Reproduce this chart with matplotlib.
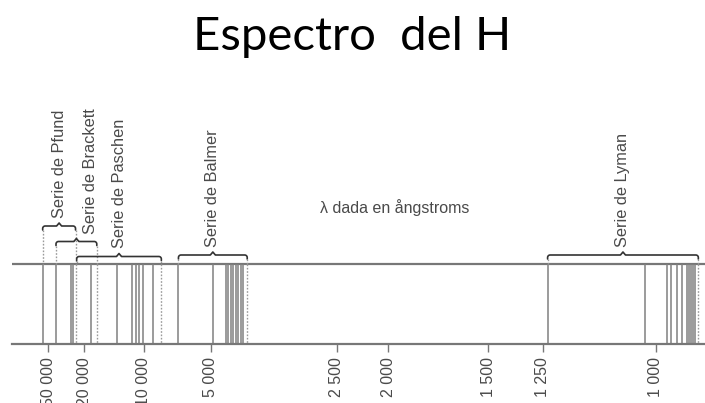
import numpy as np
import matplotlib
matplotlib.use('Agg')
import matplotlib.pyplot as plt
from matplotlib.ticker import FixedLocator, FuncFormatter

# axis ticks, wavelength in angstrom
tick_lam = np.array([50000, 20000, 10000, 5000, 2500, 2000, 1500, 1250, 1000])

# series of the hydrogen spectrum
series = ['Pfund', 'Brackett', 'Paschen', 'Balmer', 'Lyman']
series_first = [57700, 41100, 24300, 6990, 1238]
series_limit = [25000, 17300, 8350, 4090, 920]

pfund_lines = [57700, 28300]
brackett_lines = [41100, 26900]
paschen_lines = [18600, 13700, 11500, 11000, 10600, 10100, 9140]
balmer_lines = [6990, 4930, 4597, 4539, 4472, 4416, 4358, 4296, 4240, 4180]
lyman_lines = [1238, 1022, 979, 970, 960, 951, 941, 937, 933, 930, 926]

# --- layout (pixels of a 705x403 canvas, y from the top) ---
W, H = 705, 403
tick_px = np.array([48.3, 84.3, 144.0, 210.7, 336.7, 388.3, 488.3, 542.7, 656.0])
y_top, y_bot = 264.3, 344.3
brace_y = [226, 241.5, 256.5, 255, 255]
label_dx = [0, 14, 0, 0, 0]
LINE = '#808080'
TXT = '#4a4a4a'

# piecewise scale: linear in log(lambda) between the ticks
U = -np.log10(tick_lam)


def _lin(x, xs, ys):
    x = np.asarray(x, float)
    y = np.interp(x, xs, ys)
    y = np.where(x < xs[0], ys[0] + (x - xs[0]) * (ys[1] - ys[0]) / (xs[1] - xs[0]), y)
    y = np.where(x > xs[-1], ys[-1] + (x - xs[-1]) * (ys[-1] - ys[-2]) / (xs[-1] - xs[-2]), y)
    return y


def pos(lam):
    # pixel column of a wavelength
    return _lin(-np.log10(np.maximum(lam, 1e-9)), U, tick_px)


def lam_at(p):
    return 10 ** (-_lin(p, tick_px, U))


fig = plt.figure(figsize=(W / 100, H / 100), dpi=100)
ax = fig.add_axes([0, 0, 1, 1])
# scale increasing with lambda; the axis is then inverted by the limits
ax.set_xscale('function', functions=(lambda l: -pos(l), lambda p: lam_at(-np.asarray(p, float))))
ax.set_xlim(lam_at(0), lam_at(W))
ax.set_ylim(H, 0)
for s in ['top', 'left', 'right']:
    ax.spines[s].set_visible(False)
ax.yaxis.set_visible(False)
ax.patch.set_alpha(0)

x_left, x_right = lam_at(11.7), lam_at(W)
ax.spines['bottom'].set_position(('data', y_bot))
ax.spines['bottom'].set_bounds(x_right, x_left)
ax.spines['bottom'].set_color('#777777')
ax.spines['bottom'].set_linewidth(1.6)
ax.xaxis.set_major_locator(FixedLocator(tick_lam))
ax.xaxis.set_minor_locator(FixedLocator([]))
ax.xaxis.set_major_formatter(FuncFormatter(lambda v, p: f"{int(round(v)):,}".replace(',', ' ')))
ax.tick_params(axis='x', direction='out', length=6, width=1, color='#777777',
               labelsize=11.5, labelcolor=TXT, labelrotation=90, pad=3)
for t in ax.get_xticklabels():
    t.set_family('Liberation Sans')

ax.hlines(y_top, x_right, x_left, color='#777777', lw=1.6)

# spectral lines
all_lines = pfund_lines + brackett_lines + paschen_lines + balmer_lines + lyman_lines
ax.vlines(all_lines, y_top, y_bot, color=LINE, lw=1.1)
ax.vlines(series_limit, y_top, y_bot, color='#9a9a9a', lw=1.0, linestyles=(0, (1.2, 1.2)))


def brace(x0, x1, y, h=4.0, r=2.5, tip=3.0):
    # curly brace in pixel columns: hooks down at the ends, point up in the middle
    xm = (x0 + x1) / 2
    t = np.linspace(0, np.pi / 2, 8)
    xs = np.concatenate([[x0], x0 + r * (1 - np.cos(t)),
                         xm - r * np.sin(t[::-1]), [xm], xm + r * np.sin(t),
                         x1 - r * (1 - np.cos(t[::-1])), [x1]])
    ys = np.concatenate([[y + h], y + r - r * np.sin(t),
                         y - tip * (1 - np.sin(t[::-1])), [y - tip], y - tip * (1 - np.sin(t)),
                         y + r - r * np.sin(t[::-1]), [y + h]])
    return xs, ys


for i, name in enumerate(series):
    x0, x1 = float(pos(series_first[i])), float(pos(series_limit[i]))
    by = brace_y[i]
    bx, byy = brace(x0, x1, by)
    ax.plot(lam_at(bx), byy, color='#333333', lw=1.2, solid_capstyle='round')
    ax.vlines([series_first[i], series_limit[i]], by + 4, y_top, color='#9a9a9a',
              lw=1.0, linestyles=(0, (1.2, 1.2)))
    xm = lam_at((x0 + x1) / 2 + label_dx[i])
    ax.text(xm, by - 8, f'Serie de {name}', rotation=90, ha='center', va='bottom',
            fontsize=11.8, color=TXT, family='Liberation Sans')

fig.text(395 / W, 1 - 208 / H, 'λ dada en ångstroms', ha='center', va='center',
         fontsize=11.5, color=TXT, family='Liberation Sans')
fig.text(0.5, 1 - 50 / H, 'Espectro  del H', ha='center', va='baseline',
         fontsize=34, color='black', family='Lato')

fig.savefig('out.png', dpi=100)
